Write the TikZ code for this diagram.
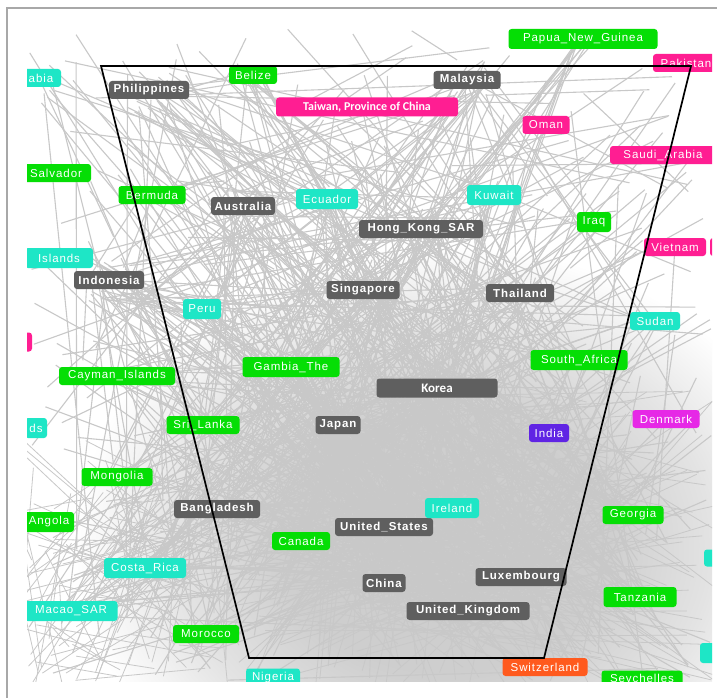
\documentclass[tikz,border=0pt]{standalone}
\usepackage{fontspec}
\setmainfont{Liberation Sans}
\newfontfamily\labfont[LetterSpace=8]{Liberation Sans}
\newfontfamily\calfont{Carlito}
\definecolor{lgray}{HTML}{5F5F5F}
\definecolor{lgreen}{HTML}{05DE05}
\definecolor{lcyan}{HTML}{1EE6C6}
\definecolor{lpink}{HTML}{FF1E92}
\definecolor{lmag}{HTML}{E628E6}
\definecolor{lviolet}{HTML}{6024E4}
\definecolor{lorange}{HTML}{FF5A1E}
\definecolor{edgegray}{HTML}{C8C8C8}
\definecolor{framegray}{HTML}{A8A8A8}
\pgfdeclareradialshading{densecore}{\pgfpoint{0bp}{0bp}}{%
  color(0bp)=(black!20); color(11bp)=(black!19); color(18bp)=(black!11);
  color(25bp)=(white); color(50bp)=(white)}
\begin{document}
\begin{tikzpicture}[x=1pt,y=-1pt,
  edge/.style={draw=edgegray, line width=1.1pt},
  fine/.style={draw=edgegray, line width=0.8pt},
  lab/.style={rounded corners=3pt, text=white, minimum height=18pt, inner xsep=2pt, inner ysep=0pt, font=\labfont\fontsize{11.5}{14}\selectfont},
  gry/.style={lab, fill=lgray, font=\labfont\bfseries\fontsize{11.5}{14}\selectfont},
  grn/.style={lab, fill=lgreen},
  cyn/.style={lab, fill=lcyan},
  pnk/.style={lab, fill=lpink},
  mgt/.style={lab, fill=lmag},
  vio/.style={lab, fill=lviolet},
  org/.style={lab, fill=lorange},
  cal/.style={font=\calfont\bfseries\fontsize{13}{15}\selectfont, minimum height=19pt},
  trap/.style={draw=black, line width=1.7pt, line join=miter}
]
\useasboundingbox (0,0) rectangle (717,698);
\fill[white] (0,0) rectangle (717,698);
\draw[framegray, line width=1.5pt] (7,698) -- (7,8) -- (717,8);

\begin{scope}
\clip (27,28) rectangle (712,681);
\pgfmathsetseed{4711}
\shade[shading=densecore] (445,545) ellipse (370pt and 300pt);
% long random lines
\foreach \i in {1,...,120}{%
  \pgfmathsetmacro{\pax}{27+685*rnd}%
  \pgfmathsetmacro{\pay}{28+653*rnd}%
  \pgfmathsetmacro{\pbx}{27+685*rnd}%
  \pgfmathsetmacro{\pby}{28+653*rnd}%
  \draw[edge] (\pax,\pay) -- (\pbx,\pby);
}
% lines from anywhere to hubs
\foreach \i in {1,...,280}{%
  \pgfmathrandominteger{\hh}{0}{15}%
  \pgfmathsetmacro{\pbx}{{437,338,384,384,468,521,363,421,520,243,467,109,149,217,437,420}[\hh]+22*rand}%
  \pgfmathsetmacro{\pby}{{388,425,527,583,611,577,290,229,293,206,80,280,90,509,388,560}[\hh]+22*rand}%
  \pgfmathsetmacro{\pax}{27+685*rnd}%
  \pgfmathsetmacro{\pay}{28+653*rnd}%
  \draw[edge] (\pax,\pay) -- (\pbx,\pby);
}
% lines from peripheral labels to hubs
\foreach \i in {1,...,230}{%
  \pgfmathrandominteger{\hh}{0}{15}%
  \pgfmathrandominteger{\kk}{0}{19}%
  \pgfmathsetmacro{\pbx}{{437,338,384,384,468,521,363,421,520,243,467,109,149,217,437,420}[\hh]+22*rand}%
  \pgfmathsetmacro{\pby}{{388,425,527,583,611,577,290,229,293,206,80,280,90,509,388,560}[\hh]+22*rand}%
  \pgfmathsetmacro{\pax}{{583,253,152,594,291,117,203,579,117,633,301,206,640,327,494,202,655,452,145,72}[\kk]+8*rand}%
  \pgfmathsetmacro{\pay}{{39,75,195,222,367,376,425,360,477,515,541,634,597,199,195,309,321,508,568,611}[\kk]+8*rand}%
  \draw[edge] (\pax,\pay) -- (\pbx,\pby);
}
% dense lower mesh (left part)
\foreach \i in {1,...,120}{%
  \pgfmathsetmacro{\pax}{130+110*rand}%
  \pgfmathsetmacro{\pay}{590+100*rand}%
  \pgfmathsetmacro{\pbx}{130+110*rand}%
  \pgfmathsetmacro{\pby}{560+130*rand}%
  \draw[fine] (\pax,\pay) -- (\pbx,\pby);
}
% dense lower mesh (centre and right)
\foreach \i in {1,...,420}{%
  \pgfmathrandominteger{\hh}{0}{5}%
  \pgfmathsetmacro{\pbx}{{437,338,384,384,468,521}[\hh]+30*rand}%
  \pgfmathsetmacro{\pby}{{388,425,527,583,611,577}[\hh]+30*rand}%
  \pgfmathsetmacro{\pax}{470+250*rand}%
  \pgfmathsetmacro{\pay}{540+150*rand}%
  \draw[fine] (\pax,\pay) -- (\pbx,\pby);
}

% grey (central) labels
\node[gry, minimum width=80pt] (ph) at (149,90) {Philippines};
\node[gry, minimum width=67pt] (ml) at (467,80) {Malaysia};
\node[gry, minimum width=64pt] (au) at (243,206) {Australia};
\node[gry, minimum width=124pt] (hk) at (421,229) {Hong\_Kong\_SAR};
\node[gry, minimum width=70pt] (idn) at (109,280) {Indonesia};
\node[gry, minimum width=73pt] (sg) at (363,290) {Singapore};
\node[gry, minimum width=68pt] (th) at (520,293) {Thailand};
\node[gry, cal, minimum width=121pt] (kr) at (437,388) {Korea};
\node[gry, minimum width=45pt] (jp) at (338,425) {Japan};
\node[gry, minimum width=86pt] (bd) at (217,509) {Bangladesh};
\node[gry, minimum width=98pt] (us) at (384,527) {United\_States};
\node[gry, minimum width=43pt] (cn) at (384,583) {China};
\node[gry, minimum width=91pt] (lu) at (521,577) {Luxembourg};
\node[gry, minimum width=123pt] (uk) at (468,611) {United\_Kingdom};

% pink / magenta / violet / orange
\node[pnk, cal, minimum width=182pt, font=\calfont\bfseries\fontsize{12}{14}\selectfont] (tw) at (367,107) {Taiwan, Province of China};
\node[pnk, minimum width=47pt] (om) at (546,125) {Oman};
\node[pnk, minimum width=66pt] (pk) at (686,63) {Pakistan};
\node[pnk, minimum width=106pt] (sa) at (663,155) {Saudi\_Arabia};
\node[pnk, minimum width=62pt] (vn) at (675,247) {Vietnam};
\node[pnk, minimum width=20pt] (vn2) at (720,247) {};
\node[pnk, minimum width=24pt, minimum height=19pt] (lp) at (20,342) {};
\node[mgt, minimum width=67pt] (dk) at (666,419) {Denmark};
\node[vio, minimum width=40pt] (in) at (549,433) {India};
\node[org, minimum width=85pt] (ch) at (545,667) {Switzerland};

% green
\node[grn, minimum width=149pt, minimum height=20pt] (pg) at (583,39) {Papua\_New\_Guinea};
\node[grn, minimum width=48pt] (bz) at (253,75) {Belize};
\node[grn, minimum width=70pt] (sv) at (56,173) {Salvador};
\node[grn, minimum width=67pt] (bm) at (152,195) {Bermuda};
\node[grn, minimum width=34pt, minimum height=20pt] (iq) at (594,222) {Iraq};
\node[grn, minimum width=97pt, minimum height=20pt] (gm) at (291,367) {Gambia\_The};
\node[grn, minimum width=116pt] (ky) at (117,376) {Cayman\_Islands};
\node[grn, minimum width=73pt] (lk) at (203,425) {Sri\_Lanka};
\node[grn, minimum width=97pt, minimum height=20pt] (za) at (579,360) {South\_Africa};
\node[grn, minimum width=71pt] (mn) at (117,477) {Mongolia};
\node[grn, minimum width=50pt, minimum height=20pt] (ao) at (49,522) {Angola};
\node[grn, minimum width=61pt] (ge) at (633,515) {Georgia};
\node[grn, minimum width=58pt] (ca) at (301,541) {Canada};
\node[grn, minimum width=66pt] (ma) at (206,634) {Morocco};
\node[grn, minimum width=73pt, minimum height=20pt] (tz) at (640,597) {Tanzania};
\node[grn, minimum width=81pt, minimum height=19pt] (sc) at (642,680) {Seychelles};

% cyan
\node[cyn, minimum width=40pt] (ab) at (41,78) {abia};
\node[cyn, minimum width=62pt, minimum height=20pt] (ec) at (327,199) {Ecuador};
\node[cyn, minimum width=54pt, minimum height=20pt] (kw) at (494,195) {Kuwait};
\node[cyn, minimum width=68pt, minimum height=20pt] (is) at (59,258) {Islands};
\node[cyn, minimum width=38pt, minimum height=20pt] (pe) at (202,309) {Peru};
\node[cyn, minimum width=50pt] (sd) at (655,321) {Sudan};
\node[cyn, minimum width=22pt, minimum height=20pt] (ds) at (36,428) {ds};
\node[cyn, minimum width=54pt, minimum height=20pt] (ie) at (452,508) {Ireland};
\node[cyn, minimum width=82pt, minimum height=20pt] (cr) at (145,568) {Costa\_Rica};
\node[cyn, minimum width=93pt, minimum height=20pt] (mo) at (71,611) {Macao\_SAR};
\node[cyn, minimum width=54pt, minimum height=19pt] (ng) at (273,678) {Nigeria};
\node[cyn, minimum width=22pt, minimum height=17pt] (rc1) at (715,558) {};
\node[cyn, minimum width=24pt, minimum height=20pt] (rc2) at (712,653) {};
\end{scope}

% selection trapezoid
\coordinate (tl) at (101,66);
\coordinate (tr) at (691,66);
\coordinate (br) at (544,658);
\coordinate (bl) at (249,658);
\draw[trap] (tl) -- (tr) -- (br) -- (bl) -- cycle;
\end{tikzpicture}
\end{document}
